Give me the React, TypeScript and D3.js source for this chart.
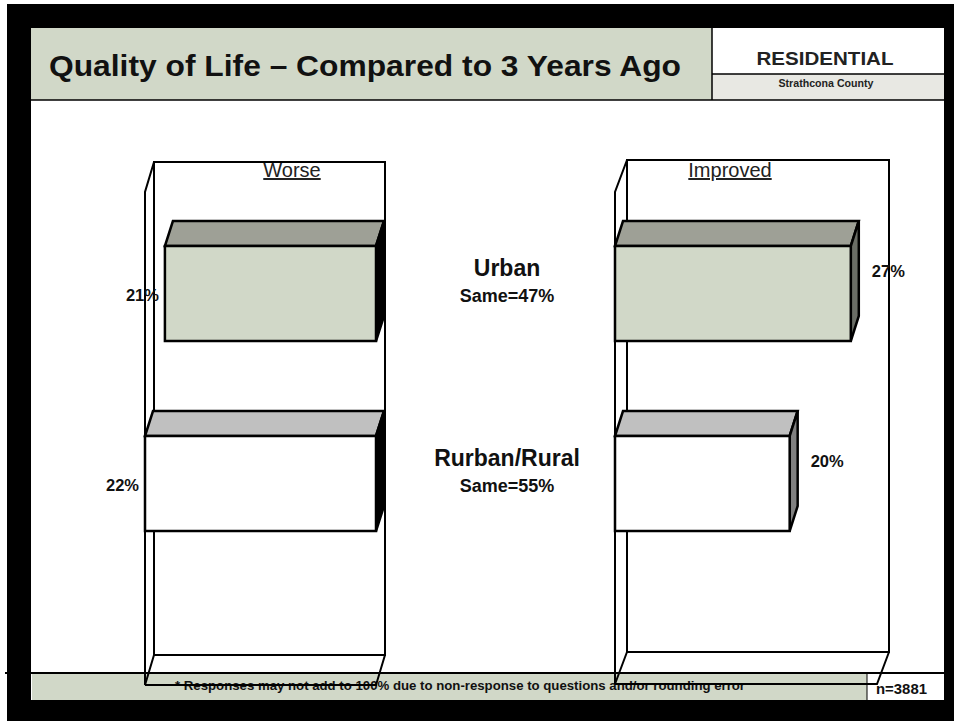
import React from 'react';
import * as d3 from 'd3';

// ---- data ----
const categories = ['Urban', 'Rurban/Rural'];
const sameLabels = ['Same=47%', 'Same=55%'];
const worseValues = [21, 22];
const improvedValues = [27, 20];
const worseAxisDomain = [10.4, 22];
const improvedAxisDomain = [0, 30];
const panelTitles = ['Worse', 'Improved'];
const titleText = 'Quality of Life \u2013 Compared to 3 Years Ago';
const segmentText = 'RESIDENTIAL';
const regionText = 'Strathcona County';
const footnoteText = '* Responses may not add to 100% due to non-response to questions and/or rounding error';
const sampleText = 'n=3881';

const FONT = '"Liberation Sans", Arial, Helvetica, sans-serif';
const GREEN = '#D1D8C8';
const frontFills = ['#D1D8C8', '#FFFFFF'];
const topFills = ['#9EA096', '#C0C0C0'];
const sideFillsLeft = ['#000000', '#000000'];
const sideFillsRight = ['#6B6E66', '#808080'];

const W = 954;
const H = 721;

const yBand = d3.scaleBand<string>().domain(categories).range([246, 531]).paddingInner(0.5).paddingOuter(0);
const xWorse = d3.scaleLinear().domain(worseAxisDomain).range([376, 145]);
const xImproved = d3.scaleLinear().domain(improvedAxisDomain).range([615, 877]);

const BAR_DX = 8;
const BAR_DY = -25;

type Panel = { x0: number; x1: number; top: number; bottom: number; dx: number; dy: number };
const leftPanel: Panel = { x0: 145, x1: 376, top: 192, bottom: 685, dx: 9, dy: -30 };
const rightPanel: Panel = { x0: 615, x1: 877, top: 192, bottom: 684, dx: 12, dy: -32 };

function PanelFrame({ p }: { p: Panel }) {
  const line = d3.line();
  const back = line([
    [p.x0 + p.dx, p.top + p.dy],
    [p.x1 + p.dx, p.top + p.dy],
    [p.x1 + p.dx, p.bottom + p.dy],
    [p.x0 + p.dx, p.bottom + p.dy],
  ]) + 'Z';
  const side = line([
    [p.x0 + p.dx, p.top + p.dy],
    [p.x0, p.top],
    [p.x0, p.bottom],
    [p.x0 + p.dx, p.bottom + p.dy],
  ]);
  const floor = line([
    [p.x0, p.bottom],
    [p.x1, p.bottom],
    [p.x1 + p.dx, p.bottom + p.dy],
  ]);
  return (
    <g fill="none" stroke="#000" strokeWidth={2} strokeLinejoin="miter">
      <path d={back!} />
      <path d={side!} />
      <path d={floor!} />
    </g>
  );
}

function Bar3D({ xa, xb, y0, y1, front, top, side }: { xa: number; xb: number; y0: number; y1: number; front: string; top: string; side: string }) {
  const left = Math.min(xa, xb);
  const right = Math.max(xa, xb);
  const line = d3.line();
  const topFace = line([
    [left, y0],
    [right, y0],
    [right + BAR_DX, y0 + BAR_DY],
    [left + BAR_DX, y0 + BAR_DY],
  ]) + 'Z';
  const sideFace = line([
    [right, y0],
    [right + BAR_DX, y0 + BAR_DY],
    [right + BAR_DX, y1 + BAR_DY],
    [right, y1],
  ]) + 'Z';
  return (
    <g stroke="#000" strokeWidth={2.5} strokeLinejoin="miter">
      <path d={topFace} fill={top} />
      <path d={sideFace} fill={side} />
      <rect x={left} y={y0} width={right - left} height={y1 - y0} fill={front} />
    </g>
  );
}

export default function App() {
  return (
    <svg width={W} height={H} viewBox={`0 0 ${W} ${H}`} style={{ position: 'absolute', left: 0, top: 0, display: 'block' }} fontFamily={FONT}>
      <rect x={0} y={0} width={W} height={H} fill="#fff" />
      <rect x={7} y={4} width={W - 7} height={H - 4} fill="#000" />
      <rect x={31} y={28} width={913} height={672} fill="#fff" />

      {/* header */}
      <rect x={31} y={28} width={681} height={72} fill={GREEN} />
      <rect x={712} y={74} width={232} height={26} fill="#E8E8E3" />
      <line x1={712} y1={28} x2={712} y2={100} stroke="#000" strokeWidth={1.5} />
      <line x1={712} y1={74} x2={944} y2={74} stroke="#000" strokeWidth={1.5} />
      <line x1={31} y1={100} x2={944} y2={100} stroke="#000" strokeWidth={1.5} />
      <text x={49} y={76} fontSize={30} fontWeight="bold" fill="#111" textLength={632} lengthAdjust="spacingAndGlyphs">{titleText}</text>
      <text x={825} y={65} fontSize={19} fontWeight="bold" fill="#222" textAnchor="middle" textLength={137} lengthAdjust="spacingAndGlyphs">{segmentText}</text>
      <text x={826} y={87} fontSize={10} fontWeight="bold" fill="#222" textAnchor="middle" textLength={95} lengthAdjust="spacingAndGlyphs">{regionText}</text>

      {/* footer */}
      <rect x={32} y={674} width={835} height={26} fill={GREEN} />
      <line x1={867} y1={674} x2={867} y2={700} stroke="#000" strokeWidth={1} />
      <line x1={5} y1={673} x2={944} y2={673} stroke="#000" strokeWidth={2} />
      <text x={175} y={690} fontSize={12} fontWeight="bold" fill="#111" textLength={570} lengthAdjust="spacingAndGlyphs">{footnoteText}</text>
      <text x={876} y={694} fontSize={14} fontWeight="bold" fill="#111" textLength={51} lengthAdjust="spacingAndGlyphs">{sampleText}</text>

      {/* panels */}
      <PanelFrame p={leftPanel} />
      <PanelFrame p={rightPanel} />

      <text x={292} y={177} fontSize={20} textAnchor="middle" fill="#222" textDecoration="underline">{panelTitles[0]}</text>
      <text x={730} y={177} fontSize={20} textAnchor="middle" fill="#222" textDecoration="underline">{panelTitles[1]}</text>

      {categories.map((c, i) => {
        const y0 = yBand(c)!;
        const y1 = y0 + yBand.bandwidth();
        return (
          <g key={'w' + c}>
            <Bar3D xa={xWorse(worseAxisDomain[0])} xb={xWorse(worseValues[i])} y0={y0} y1={y1} front={frontFills[i]} top={topFills[i]} side={sideFillsLeft[i]} />
          </g>
        );
      })}
      {categories.map((c, i) => {
        const y0 = yBand(c)!;
        const y1 = y0 + yBand.bandwidth();
        return (
          <g key={'i' + c}>
            <Bar3D xa={xImproved(improvedAxisDomain[0])} xb={xImproved(improvedValues[i])} y0={y0} y1={y1} front={frontFills[i]} top={topFills[i]} side={sideFillsRight[i]} />
          </g>
        );
      })}

      {/* value labels */}
      {categories.map((c, i) => {
        const cy = yBand(c)! + yBand.bandwidth() / 2;
        return (
          <g key={'lab' + c} fontWeight="bold" fontSize={16.5} fill="#111">
            <text x={xWorse(worseValues[i]) - 6} y={cy + 7} textAnchor="end">{worseValues[i]}%</text>
            <text x={xImproved(improvedValues[i]) + BAR_DX + 13} y={cy - 17}>{improvedValues[i]}%</text>
          </g>
        );
      })}

      {/* category labels */}
      {categories.map((c, i) => {
        const cy = yBand(c)! + yBand.bandwidth() / 2;
        return (
          <g key={'cat' + c} fontWeight="bold" fill="#111" textAnchor="middle">
            <text x={507} y={cy - 18} fontSize={23}>{c}</text>
            <text x={507} y={cy + 8.5} fontSize={18}>{sameLabels[i]}</text>
          </g>
        );
      })}
    </svg>
  );
}
